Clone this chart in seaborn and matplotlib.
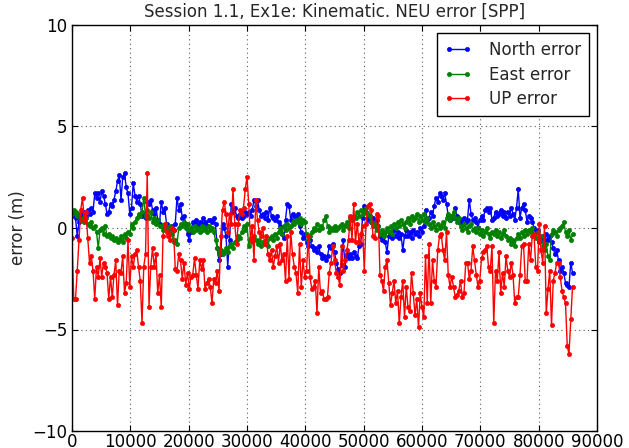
import numpy as np
import matplotlib
matplotlib.use("Agg")
import matplotlib.pyplot as plt
import seaborn as sns

# epochs every 300 s, 0 .. 85800 s
step = 300

north = [
    0.6, 0.8, 0.5, -0.4, 0.3, 0.7, 0.5, 0.8, 0.6, 0.9,
    0.7, 1.0, 0.8, 1.7, 1.5, 1.7, 1.3, 1.8, 1.6, 1.2,
    0.7, 0.8, 1.2, 1.1, 1.4, 1.8, 2.3, 2.6, 1.4, 2.5,
    2.7, 2.0, 1.7, 0.7, 1.0, 2.2, 1.6, 1.3, 1.6, 1.2,
    0.6, 0.7, 0.5, 1.3, 1.2, 1.4, 0.9, 0.7, 1.0, 0.4, 0.2,
    1.3, 0.8, 1.0, 0.2, -0.1, 0.0, 0.1, -0.1, 0.2, 1.5,
    0.9, 1.2, 0.5, 0.6, 0.2, -0.3, -0.6, -0.2, 0.3, 0.2,
    0.4, 0.1, 0.3, 0.2, 0.5, 0.3, 0.1, 0.4, 0.4, 0.3,
    0.5, 0.2, -1.0, -1.6, -1.3, 0.2, 0.0, -0.4, -1.9, -0.6,
    1.2, 0.8, 1.0, 0.6, 0.5, 0.7, 0.5, 0.6, 0.8, 0.7,
    0.8, 0.6, 0.9, 1.4, 1.1, 1.4, 0.9, 0.6, 0.7, 0.5,
    0.8, 0.4, 1.0, 0.6, 0.5, 0.4, 0.6, 0.3, 0.1, -0.3,
    -0.5, 0.4, 1.2, 1.1, 0.4, 0.7, 0.6, 0.5, 0.7, 0.1,
    -0.2, -0.5, -0.3, -0.7, -0.9, -0.6, -0.9, -1.1, -1.0, -1.2,
    -0.9, -1.3, -1.5, -1.4, -1.6, -1.4, -0.9, -1.0, -0.8, -1.2,
    -1.7, -2.0,
    -2.2, -1.8, -0.6, -1.9, -1.3, -1.5, -1.3, -1.5,
    -1.2, -1.4, -1.5, -0.9, -0.8, 0.5, 1.1, 0.8, 0.4, 0.6,
    0.3, 0.5, 0.2, 0.4, 0.1, -0.4, -0.6, -0.3, -0.7, -1.2,
    -0.4, -0.2, -0.5, -0.1, -0.4, -0.2, -0.5, -0.3, -1.1, -0.4,
    -0.1, -0.4, -0.2, -0.5, -0.1, -0.3, -0.2, -0.4, 0.0, -0.2,
    0.1, 0.9, 0.4,
    0.5, 0.8, 0.6, 1.1, 1.5, 1.3, 1.7,
    1.6, 1.4, 1.7, 1.2, 0.6, 0.4, 0.6, 0.5, 1.0, 0.6,
    0.3, 0.4, 0.2, 0.5, 0.3, 0.4, 1.4, 0.7, 0.4, 0.5,
    0.3, 0.0, 0.4, 0.6, 0.4, 0.9, 1.0, 0.8, 1.0, 0.4,
    0.5, 0.8, 0.6, 0.7, 0.9, 0.6, 0.8, 0.5, 0.8, 0.6,
    1.0, 0.7, 0.4, 1.0,
    1.9, 0.5, 1.0, 1.2, 0.9, 0.3,
    0.6, 0.5, 0.3, 0.0, -0.2, -0.1, -0.7, -0.6, -0.4, -0.6,
    -0.3, -0.6, -0.4, -0.7, -1.0, -1.3, -1.1, -1.6, -2.1, -1.9,
    -2.2, -2.7, -2.8, -2.9, -1.7, -2.2,
]

east = [
    0.7, 0.9, 0.8, 0.6, 0.7, 0.4, 0.5, 0.3, 0.5, 0.2,
    0.1, 0.3, 0.0, 0.1, -0.2, -1.0, -0.1, 0.0, -0.3, 0.1,
    -0.4, -0.3, -0.5, -0.4, -0.6, -0.5, -0.7, -0.6, -0.4, -0.7,
    -0.3, -0.5, -0.2, -0.3, 0.2, 0.0, 0.3, 0.5, 0.7, 0.6,
    0.8, 1.5, 0.6, 0.9, 0.5, 0.8, 0.3, 0.5, 0.2, 0.4, 0.1,
    0.1, -0.1, 0.2, 0.0, -0.2, 0.1, -0.3, -0.7, -0.6, -0.8,
    0.0, 0.2, 0.1, 0.3, 0.0, 0.2, -0.1, 0.0, -0.2, 0.1,
    -0.1, 0.0, -0.2, 0.1, -0.1, 0.0, -0.2, 0.1, -0.1, 0.0,
    -0.2, -0.6, -1.0, -1.3, -1.1, -1.3, -1.2, -1.0, -1.2, -0.9,
    -0.8, -1.0, -0.7, -0.6, -0.4, -0.5, -0.2, 0.1, -0.1, 0.2,
    -0.9, -0.5, -0.7, -0.4, -0.6, -0.8, -0.6, -0.9, -0.7, -0.8,
    -0.6, -0.9, -0.5, -0.4, -0.6, -0.3, -0.5, -0.2, 0.0, -0.3,
    0.1, -0.1, 0.2, 0.0, 0.1, 0.3, 0.2, 0.4, 0.3, 0.5,
    0.2, 0.4, 0.3, -0.3, -0.6, -0.4, -0.2, 0.0, -0.1, 0.2,
    -0.1, 0.1, 0.0, 0.4, 0.6, 0.1, -0.2, 0.0, -0.1, 0.1,
    -0.1, 0.0,
    0.1, 0.2, -0.1, 0.1, 0.3, 0.0, 0.5, 0.4,
    0.6, 0.5, 0.8, 0.6, 0.9, 0.7, 0.8, 1.0, 0.7, 0.6,
    0.3, 0.1, 0.2, -0.1, 0.1, -0.3, -0.1, -0.4, -0.2, 0.0,
    -0.2, 0.1, -0.3, 0.2, 0.0, 0.3, 0.1, 0.4, 0.2, 0.0,
    0.3, 0.5, 0.2, 0.6, 0.4, 0.5, 0.7, 0.3, 0.6, 0.4,
    0.7, 0.3, 0.5,
    0.2, 0.0, 0.3, 0.1, -0.1, 0.2, 0.0,
    0.1, 0.3, 0.0, 0.5, 0.7, 0.4, 0.6, 0.8, 0.5, 0.3,
    0.5, 0.1, -0.1, 0.2, 0.0, -0.2, 0.1, 0.2, -0.1, 0.0,
    -0.2, 0.0, -0.3, -0.1, -0.4, -0.2, 0.0, -0.3, -0.5, -0.2,
    -0.3, -0.1, -0.4, -0.2, -0.5, -0.3, -0.1, -0.4, -0.6, -0.5,
    -0.8, -0.6, -0.9, -0.5,
    -0.3, -0.5, -0.2, -0.4, -0.1, -0.3,
    -0.1, -0.2, 0.0, -0.3, -0.5, -0.2, -0.6, -0.4, -0.9, -1.1,
    -0.8, -1.4, -1.6, -0.3, -0.1, -0.2, -0.4, -0.1, 0.0, 0.1,
    0.3, -0.2, -0.4, -0.1, -0.6, -0.3,
]

up = [
    -0.5, -3.5, -3.5, -2.1, -0.6, 0.9, 1.5, 0.4, 0.8, -0.5,
    -1.7, -1.4, -2.1, -3.5, -1.9, -2.4, -1.5, -2.4, -1.7, -1.9,
    -2.2, -3.5, -2.4, -3.4, -2.3, -1.6, -3.8, -2.1, -2.2, -1.4,
    -3.2, -2.7, -0.6, -2.9, -1.4, -1.9, -1.3, -1.1, -1.9, -2.6,
    -4.7, -1.9, -1.3, 2.7, -3.9, -1.9, -1.0, -1.9, -1.3, -3.2, -2.3,
    -3.9, -0.4, 0.2, -0.2, -0.4, -0.6, 0.0, -0.1, -2.0, -2.1,
    -1.3, -1.6, -2.5, -1.7, -2.8, -2.2, -3.0, -2.4, -2.3, -1.5,
    -2.3, -3.0, -1.6, -2.0, -1.6, -3.0, -2.7, -2.5, -2.9, -3.7,
    -2.5, -2.7, -2.1, -3.1, -0.4, 0.9, 1.3, 0.7, -0.2, 0.7,
    0.2, 1.9, 0.2, -0.8, 0.2, 0.9, 0.7, 1.0, 1.9, 2.5,
    1.2, -0.6, 0.1, -1.6, 1.4, 0.4, -0.2, -0.4, 0.0, -0.8,
    -0.4, -1.3, -1.6, -1.1, -1.9, -1.4, -0.9, -1.7, -0.8, -1.6,
    -1.3, -2.6, -0.4, -2.5, -0.2, -1.3, -1.9, -2.2, -3.2, -0.8,
    -2.9, -1.6, -2.4, -2.1, -0.4, -2.4, -3.0, -2.9, -2.6, -4.2,
    -1.9, -3.2, -3.1, -3.5, -3.5, -3.4, -2.2, -1.7, -0.9, -1.6,
    -2.2, -2.4,
    -2.8, -0.9, -2.1, -1.6, -1.1, -0.6, 0.6, -0.6, 1.2, -0.7,
    0.2, -0.7, -0.3, 0.1, -2.1, 0.2, 1.1, 1.2, 0.9, -0.4,
    -0.5, 0.7, 0.6, -2.3, -2.6, -3.1, -1.9, -1.6, -2.7, -3.8,
    -3.2, -2.6, -3.7, -3.1, -4.7, -3.4, -2.6, -4.4, -2.9, -3.9,
    -4.1, -2.2, -3.2, -4.3, -3.5, -4.9, -3.2, -3.9, -4.4, -1.4,
    -3.7,
    -0.8, -3.7, -1.6, -2.6, -2.9, -1.1, -0.4, -0.3, -1.1, -1.6,
    -0.2, -2.3, -2.9, -2.4, -2.9, -3.4, -3.3, -3.1, -2.6, -3.4,
    -3.2, -1.7, -1.7, -2.5, -2.1, -0.9, -1.6, -2.3, -2.9, -2.6,
    -1.5, -1.2, -1.1, -0.9, -1.9, -2.1, -0.9, -4.7, -2.1, -2.6,
    -1.2, -3.2, -2.2, -2.9, -1.4, -2.1, -2.4, -1.7, -2.3, -3.7,
    -3.4,
    -3.4, -2.3, -0.9, -0.8, -2.6, -2.6, -0.8, -1.6, -0.4, -0.3,
    -1.9, -2.1, 0.2, -1.1, -1.7, 0.1, -4.2, -3.0, -2.1, -4.8,
    -2.6, -2.2, -1.7, -1.7, -2.4, -3.1, -3.4, -3.7, -5.8, -6.2,
    -4.5, -2.9,
]

series_names = ["North error", "East error", "UP error"]
series_colors = ["b", "g", "r"]

t = np.arange(len(up)) * step

sns.set_style("white", {
    "axes.edgecolor": "black",
    "xtick.direction": "in",
    "ytick.direction": "in",
    "xtick.bottom": True,
    "xtick.top": True,
    "ytick.left": True,
    "ytick.right": True,
})
plt.rcParams["font.family"] = ["DejaVu Sans"]

fig = plt.figure(figsize=(6.29, 4.48), dpi=100)
ax = fig.add_axes([72 / 629, 1 - 431 / 448, 525 / 629, 406 / 448])

for vals, name, col in zip([north, east, up], series_names, series_colors):
    sns.lineplot(x=t, y=vals, ax=ax, color=col, label=name, linewidth=1,
                 marker="o", markersize=3, markeredgecolor=col,
                 markeredgewidth=0.5)

ax.set_xlim(0, 90000)
ax.set_ylim(-10, 10)
ax.set_xticks(range(0, 90001, 10000))
ax.set_yticks([-10, -5, 0, 5, 10])
ax.tick_params(labelsize=12, length=4, width=0.8, colors="black")
ax.tick_params(axis="x", pad=1.5)
ax.grid(True, linestyle=(0, (1, 3)), color="0.35", linewidth=0.8)
for s in ax.spines.values():
    s.set_linewidth(1)

ax.set_title("Session 1.1, Ex1e: Kinematic. NEU error [SPP]", fontsize=12)
ax.set_ylabel("error (m)", fontsize=12)
ax.legend(loc="upper right", numpoints=2, fontsize=12, fancybox=False,
          framealpha=1, edgecolor="black", borderaxespad=0.5,
          labelspacing=0.4, handlelength=1.7, handletextpad=1.0,
          borderpad=0.45)

fig.savefig("out.png", dpi=100)
